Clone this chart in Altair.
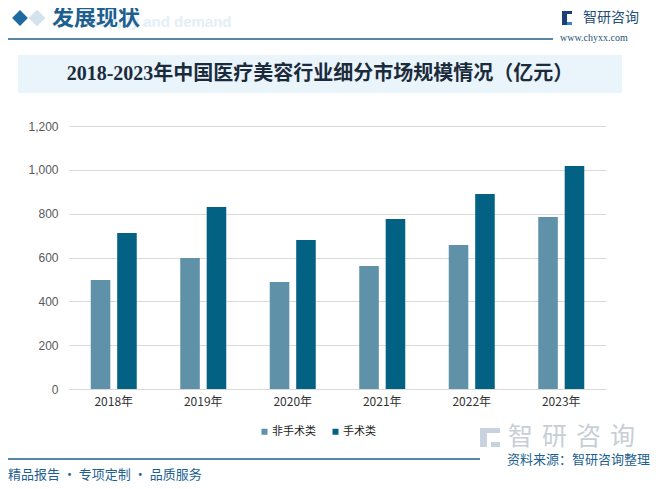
import altair as alt
import pandas as pd

years = ["2018年", "2019年", "2020年", "2021年", "2022年", "2023年"]
series = ["非手术类", "手术类"]
non_surgical = [497, 598, 488, 561, 657, 785]
surgical = [712, 830, 680, 776, 890, 1017]
colors = ["#5f91a8", "#036284"]
y_ticks = [0, 200, 400, 600, 800, 1000, 1200]

title_text = "2018-2023年中国医疗美容行业细分市场规模情况（亿元）"
header_text = "发展现状"
footer_text = "精品报告 · 专项定制 · 品质服务"
source_text = "资料来源：智研咨询整理"

rows = []
for i, y in enumerate(years):
    rows.append({"year": y, "type": series[0], "value": non_surgical[i]})
    rows.append({"year": y, "type": series[1], "value": surgical[i]})
df = pd.DataFrame(rows)

CJK = "Noto Sans CJK SC"
BLUE = "#1d5f8f"

bars = alt.Chart(df).mark_bar().encode(
    x=alt.X("year:N", sort=years,
            scale=alt.Scale(paddingInner=0.486, paddingOuter=0.243),
            axis=alt.Axis(title=None, labelAngle=0, ticks=False, domain=False,
                          labelPadding=7, labelFontSize=12, labelColor="#333333",
                          labelFont=CJK, grid=False)),
    xOffset=alt.XOffset("type:N", sort=series, scale=alt.Scale(paddingInner=0.26)),
    y=alt.Y("value:Q", scale=alt.Scale(domain=[0, 1200]),
            axis=alt.Axis(title=None, values=y_ticks, format=",.0f", ticks=False, domain=False,
                          labelPadding=11, labelFontSize=12, labelColor="#595959",
                          labelFont="Liberation Sans", gridColor="#d9d9d9", gridWidth=1)),
    color=alt.Color("type:N", sort=series,
                    scale=alt.Scale(domain=series, range=colors),
                    legend=alt.Legend(orient="none", legendX=190, legendY=300,
                                      direction="horizontal", title=None,
                                      symbolType="square", symbolSize=36,
                                      symbolStrokeWidth=0,
                                      labelFontSize=11, labelFont=CJK, labelColor="#222222",
                                      labelOffset=2, columnPadding=14, padding=0)),
)

one = pd.DataFrame({"k": [0]})
base = alt.Chart(one)

def txt(x, y, s, size, color, weight="normal", font=CJK, align="left"):
    return base.mark_text(text=s, fontSize=size, color=color, fontWeight=weight,
                          font=font, align=align, baseline="middle").encode(
        x=alt.value(x), y=alt.value(y))

def rect(x, x2, y, y2, color):
    return base.mark_rect(color=color).encode(
        x=alt.value(x), x2=alt.value(x2), y=alt.value(y), y2=alt.value(y2))

def rule(x, x2, y, color, w):
    return base.mark_rule(color=color, strokeWidth=w).encode(
        x=alt.value(x), x2=alt.value(x2), y=alt.value(y))

deco = [
    # header
    base.mark_point(shape="diamond", filled=True, size=280, color="#d3e3ee", opacity=1).encode(
        x=alt.value(-32), y=alt.value(-108)),
    base.mark_point(shape="diamond", filled=True, size=250, color="#1f6aa0", opacity=1).encode(
        x=alt.value(-49), y=alt.value(-108)),
    txt(20, -104, "Supply and demand", 15, "#e4eef6", weight="bold", font="Liberation Sans"),
    txt(-17, -108, header_text, 22, BLUE, weight="bold"),
    rule(-64, 484, -87, "#1f5f8b", 1.5),
    # logo top right
    rect(493, 498, -115, -101, "#1c3f7a"),
    rect(498, 503, -115, -112, "#1c3f7a"),
    rect(498, 503, -104, -101, "#3b82d0"),
    txt(514, -108, "智研咨询", 14, "#1f4e79"),
    txt(491, -88, "www.chyxx.com", 10, "#2a4f7a", font="Liberation Serif"),
    # title box
    rect(-51, 553, -71, -33, "#eaf4fb"),
    txt(251, -52, title_text, 20, "#1b2b3c", weight="bold", font="Liberation Serif, " + CJK,
        align="center"),
    # bottom watermark logo
    rect(411, 418, 302, 321, "#c9d3df"),
    rect(418, 431, 302, 307, "#c9d3df"),
    rect(422, 431, 316, 321, "#c9d3df"),
    txt(439, 311, "智", 25, "#c8ced6"),
    txt(473, 311, "研", 25, "#c8ced6"),
    txt(507, 311, "咨", 25, "#c8ced6"),
    txt(541, 311, "询", 25, "#c8ced6"),
    # footer
    rule(-62, 411, 333, "#1f5f8b", 1.5),
    txt(-61, 349, footer_text, 13, BLUE),
    txt(438, 334, source_text, 13, BLUE),
]

chart = alt.layer(*deco[:-3], bars, *deco[-3:]).properties(
    width=537, height=263,
    padding={"left": 61, "top": 118, "right": 52, "bottom": 92},
    autosize=alt.AutoSizeParams(type="none"),
    background="white",
).configure_view(stroke=None)

chart.save("out.html", embed_options={"renderer": "svg", "actions": False})
